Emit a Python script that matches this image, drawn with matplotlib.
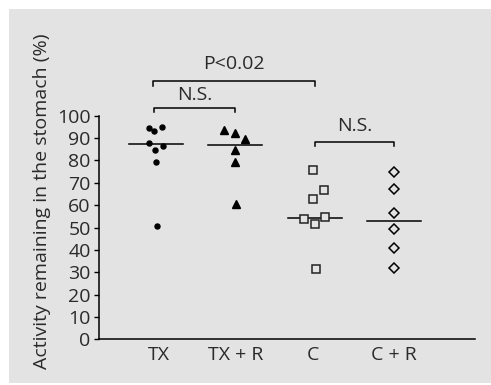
import numpy as np
import matplotlib
matplotlib.use('Agg')
import matplotlib.pyplot as plt
from matplotlib.patches import Rectangle

plt.rcParams['font.family'] = ['Open Sans', 'DejaVu Sans']

groups = ['TX', 'TX + R', 'C', 'C + R']
tx = [94.3, 93.2, 95.1, 87.9, 86.6, 84.5, 79.2, 50.8]
tx_r = [93.5, 92.4, 89.4, 84.7, 79.2, 60.5]
c = [75.9, 66.7, 62.9, 53.8, 54.6, 51.5, 31.3]
c_r = [74.6, 67.3, 56.6, 49.5, 40.8, 32.1]
medians = [87.3, 87.1, 54.3, 53.1]

# horizontal scatter of the points inside each group
tx_dx = [-0.09, -0.02, 0.08, -0.09, 0.09, -0.01, 0.0, 0.01]
tx_r_dx = [-0.14, 0.0, 0.12, 0.0, 0.0, 0.01]
c_dx = [-0.02, 0.12, -0.02, -0.13, 0.13, 0.0, 0.01]
c_r_dx = [0.0, 0.0, 0.0, 0.0, 0.0, 0.0]

ink = '#2a2a2a'
fs = 14
fig = plt.figure(figsize=(4.91, 3.85), dpi=100)
fig.patch.set_facecolor('white')
fig.patches.append(Rectangle((9/491, 1-383/385), 1, 374/385, transform=fig.transFigure,
                             facecolor='#e3e3e3', edgecolor='none', zorder=-10))

ax = fig.add_axes([99/491, 1-339.3/385, 376/491, 223.6/385])
ax.set_facecolor('none')

pos = np.arange(1, 5)
series = [(tx, tx_dx), (tx_r, tx_r_dx), (c, c_dx), (c_r, c_r_dx)]
styles = [dict(marker='o', ms=3.6, mfc='black', mec='black'),
          dict(marker='^', ms=5.8, mfc='black', mec='black'),
          dict(marker='s', ms=5.2, mfc='#e3e3e3', mec='#222222', mew=1.1),
          dict(marker='D', ms=5.0, mfc='#e3e3e3', mec='black', mew=1.1)]
for p, (vals, dx), st, m in zip(pos, series, styles, medians):
    ax.plot([p - 0.34, p + 0.34], [m, m], color='black', lw=1.1, zorder=2)
    ax.plot(p + np.array(dx), vals, ls='none', zorder=3, clip_on=False, **st)

def bracket(x0, x1, y, h, label, ty):
    ax.plot([x0, x0, x1, x1], [y - h, y, y, y - h], color='black', lw=1.1, clip_on=False)
    ax.text((x0 + x1) / 2, ty, label, ha='center', va='center', fontsize=fs, color=ink,
            clip_on=False)

bracket(0.96, 3.0, 115.5, 2.2, 'P<0.02', 123.3)
bracket(0.98, 2.0, 103.4, 1.8, 'N.S.', 109.2)
bracket(3.0, 4.0, 88.2, 1.8, 'N.S.', 95.6)

ax.set_xlim(0.281, 5.02)
ax.set_ylim(0, 100)
ax.set_yticks(np.arange(0, 101, 10))
ax.set_xticks(pos + np.array([0.04, 0.0, -0.02, 0.0]))
ax.set_xticklabels(groups)
ax.tick_params(axis='x', length=0, pad=4.5, labelsize=fs, labelcolor=ink)
ax.tick_params(axis='y', length=3.5, width=1, direction='out', pad=2.5,
               labelsize=fs, labelcolor=ink)
for s in ['top', 'right']:
    ax.spines[s].set_visible(False)
for s in ['left', 'bottom']:
    ax.spines[s].set_linewidth(1.1)

fig.text(42/491, 1-201/385, 'Activity remaining in the stomach (%)', rotation=90,
         ha='center', va='center', fontsize=fs, color=ink)

fig.savefig('out.png', dpi=100)
